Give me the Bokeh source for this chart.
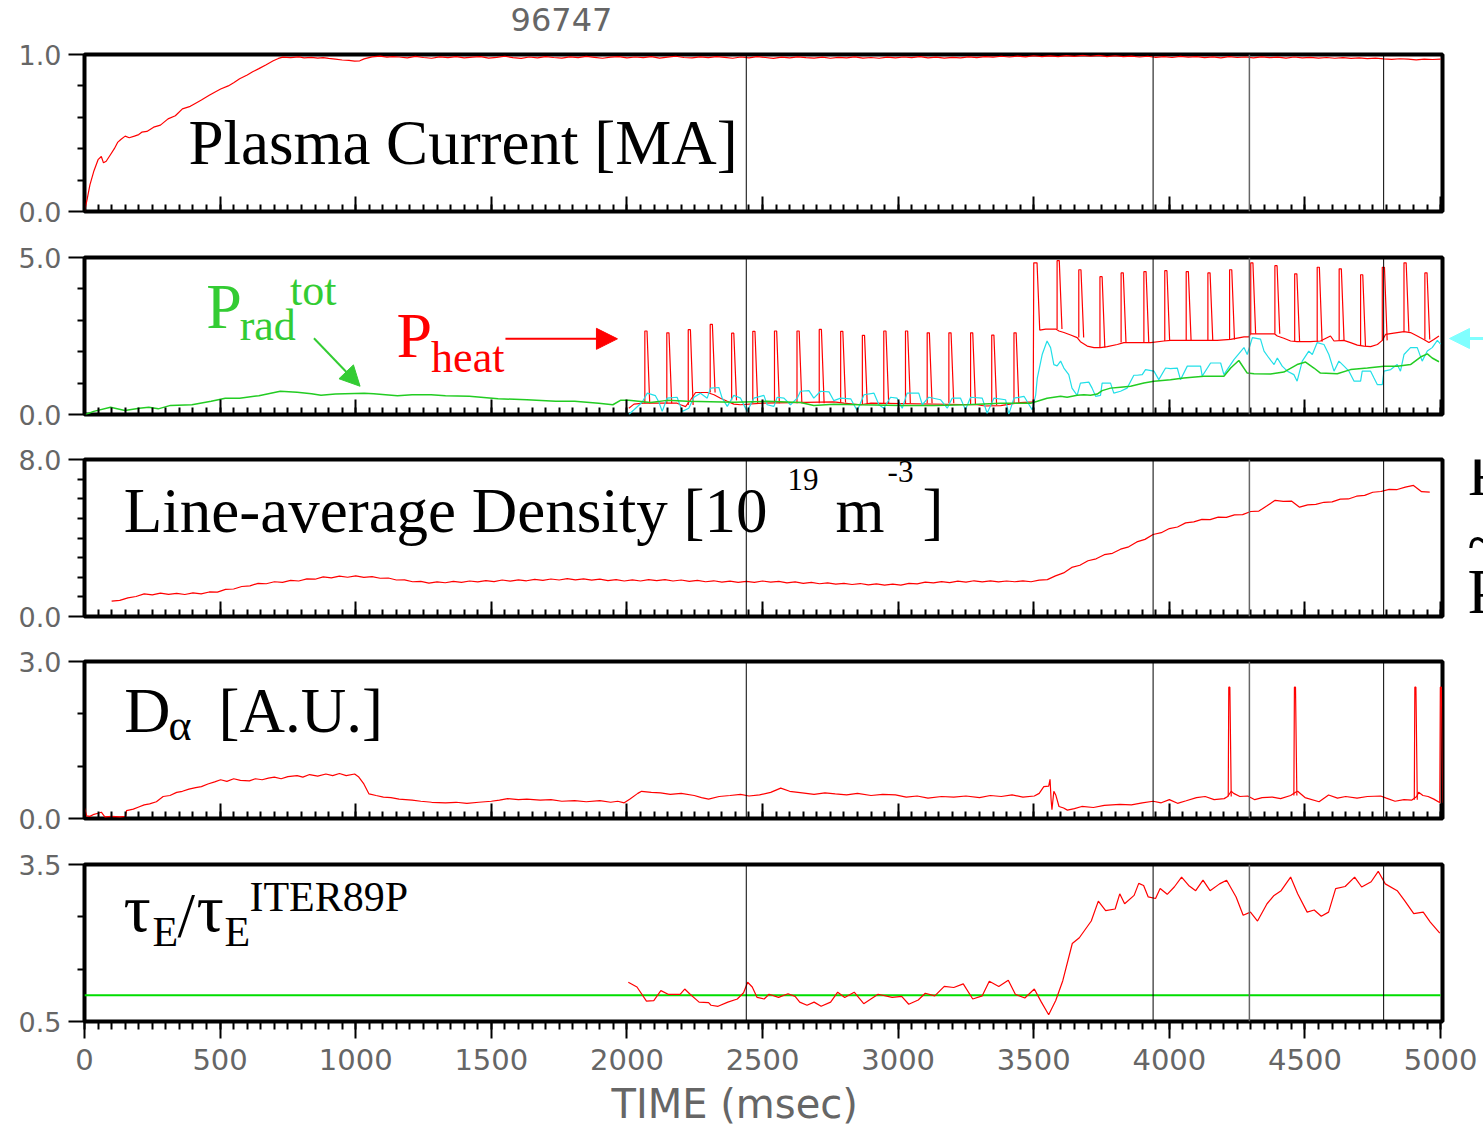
import numpy as np
from bokeh.plotting import figure
from bokeh.layouts import column, row
from bokeh.models import (Range1d, FixedTicker, PrintfTickFormatter, Span, Label,
                          Arrow, NormalHead, Title)
from bokeh.embed import file_html
from bokeh.resources import INLINE

SHOT = "96747"
X_MAX = 5007
X_MAJOR = list(range(0, 5001, 500))
X_MINOR = list(range(0, 5001, 50))
MARKERS_MS = [2440, 3940, 4295, 4790]

# ---------------- plasma current [MA]
ip_rise_t = [0, 10, 20, 35, 50, 62, 70, 80, 95, 110, 122, 135, 150, 165, 184, 200, 211, 230, 255, 280,
             308, 335, 361, 390, 410, 431, 460, 480, 502, 530, 550, 572, 600, 620, 643, 670, 696, 715, 731, 760,
             790, 810, 837, 860, 880, 900, 925, 950, 975, 996, 1015, 1031, 1060, 1090, 1115, 1137]
ip_rise_v = [0.0, 0.08, 0.17, 0.26, 0.33, 0.35, 0.31, 0.32, 0.36, 0.40, 0.44, 0.46, 0.48, 0.47, 0.48, 0.49,
             0.505, 0.51, 0.537, 0.55, 0.59, 0.61, 0.654, 0.67, 0.69, 0.71, 0.74, 0.76, 0.78, 0.80, 0.82, 0.845,
             0.87, 0.89, 0.91, 0.935, 0.96, 0.975, 0.983, 0.980, 0.985, 0.979, 0.982, 0.977, 0.980, 0.975, 0.970,
             0.965, 0.962, 0.958, 0.960, 0.972, 0.985, 0.990, 0.983, 0.987]
ip_flat_t0 = 1160
ip_flat_dt = 30
ip_flat_v = [0.984, 0.979, 0.988, 0.981, 0.976, 0.985, 0.980, 0.987, 0.978, 0.983,
             0.986, 0.977, 0.982, 0.989, 0.980, 0.975, 0.984, 0.979, 0.986, 0.981,
             0.977, 0.985, 0.980, 0.988, 0.982, 0.976, 0.983, 0.987, 0.979, 0.984,
             0.980, 0.986, 0.977, 0.983, 0.989, 0.981, 0.978, 0.985, 0.980, 0.987,
             0.982, 0.976, 0.984, 0.979, 0.987, 0.981, 0.975, 0.983, 0.978, 0.985,
             0.980, 0.977, 0.983, 0.976, 0.982, 0.979, 0.985, 0.977, 0.981, 0.976,
             0.983, 0.978, 0.984, 0.980, 0.986, 0.979, 0.983, 0.977, 0.982, 0.978,
             0.985, 0.980, 0.987, 0.983, 0.989, 0.984, 0.990, 0.985, 0.992, 0.987,
             0.991, 0.986, 0.993, 0.988, 0.995, 0.989, 0.994, 0.987, 0.992, 0.986,
             0.990, 0.984, 0.989, 0.982, 0.987, 0.981, 0.988, 0.983, 0.986, 0.980,
             0.985, 0.979, 0.986, 0.981, 0.984, 0.978, 0.985, 0.980, 0.983, 0.977,
             0.984, 0.979, 0.982, 0.977, 0.981, 0.976, 0.980, 0.975, 0.979, 0.974,
             0.977, 0.972, 0.969, 0.973, 0.970, 0.966, 0.971, 0.968, 0.970]

# ---------------- heating / radiated power [MW]
prad_t = [4, 34, 96, 149, 202, 237, 272, 317, 396, 467, 519, 572, 643, 722, 784, 837, 872, 925, 1031, 1066,
          1154, 1208, 1278, 1331, 1419, 1525, 1631, 1737, 1807, 1896, 1948, 1976, 2007, 2087, 2148, 2222,
          2394, 2517, 2640, 2689, 2763, 2861, 3009, 3132, 3254, 3377, 3488, 3513, 3549, 3599, 3623, 3660,
          3685, 3709, 3734, 3752, 3783, 3820, 3857, 3906, 3943, 4004, 4053, 4127, 4201, 4226, 4256, 4287,
          4312, 4373, 4422, 4471, 4502, 4533, 4557, 4619, 4668, 4730, 4791, 4840, 4889, 4926, 4951, 4969, 4994]
prad_v = [0.0, 0.10, 0.23, 0.13, 0.20, 0.23, 0.18, 0.29, 0.31, 0.42, 0.52, 0.52, 0.60, 0.74, 0.71, 0.66,
          0.61, 0.65, 0.68, 0.66, 0.60, 0.63, 0.63, 0.60, 0.58, 0.50, 0.47, 0.42, 0.42, 0.36, 0.31, 0.45,
          0.45, 0.38, 0.45, 0.42, 0.39, 0.42, 0.38, 0.29, 0.33, 0.31, 0.29, 0.29, 0.31, 0.36, 0.36, 0.42,
          0.52, 0.58, 0.55, 0.61, 0.63, 0.61, 0.65, 0.76, 0.84, 0.87, 0.90, 1.00, 1.06, 1.11, 1.16, 1.22,
          1.22, 1.48, 1.72, 1.32, 1.30, 1.29, 1.35, 1.59, 1.67, 1.48, 1.32, 1.30, 1.43, 1.48, 1.54, 1.54,
          1.59, 1.83, 1.93, 1.80, 1.68]

pheat_t = [2007, 2026, 2062, 2185, 2198, 2216, 2235, 2253, 2296, 2321, 2345, 2370, 2394, 2419, 2500, 2763,
           2800, 2861, 2900, 3291, 3320, 3378, 3451, 3498, 3500, 3512, 3522, 3544, 3581, 3593, 3611, 3636,
           3660, 3672, 3697, 3722, 3746, 3771, 3808, 3832, 3906, 3931, 3980, 4004, 4127, 4176, 4226, 4275,
           4293, 4299, 4387, 4398, 4422, 4447, 4471, 4520, 4557, 4594, 4607, 4643, 4668, 4693, 4717, 4742,
           4767, 4785, 4797, 4840, 4865, 4889, 4914, 4938, 4957, 4975, 4994]
pheat_v = [0.20, 0.33, 0.36, 0.36, 0.31, 0.25, 0.47, 0.70, 0.70, 0.63, 0.52, 0.42, 0.33, 0.31, 0.36, 0.40,
           0.36, 0.31, 0.36, 0.31, 0.27, 0.28, 0.38, 0.40, 4.83, 4.83, 2.69, 2.72, 2.72, 2.66, 2.61, 2.53,
           2.45, 2.32, 2.18, 2.13, 2.13, 2.16, 2.23, 2.29, 2.29, 2.29, 2.34, 2.36, 2.36, 2.36, 2.39, 2.47,
           2.47, 2.57, 2.57, 2.50, 2.43, 2.34, 2.32, 2.32, 2.34, 2.50, 2.34, 2.36, 2.29, 2.21, 2.18, 2.16,
           2.23, 2.36, 2.55, 2.61, 2.64, 2.61, 2.50, 2.39, 2.29, 2.39, 2.50]

# beam blips: start time, peak power, level before/after
blip_t = [2066, 2147, 2226, 2307, 2386, 2464, 2544, 2627, 2709, 2788, 2868, 2947, 3027, 3107, 3187, 3267,
          3345, 3427, 3586, 3666, 3744, 3822, 3906, 3983, 4062, 4142, 4222, 4300, 4389, 4462, 4545, 4626,
          4705, 4785, 4865, 4942]
blip_peak = [2.66, 2.60, 2.70, 2.87, 2.59, 2.65, 2.66, 2.66, 2.71, 2.65, 2.52, 2.66, 2.66, 2.60, 2.60, 2.60,
             2.53, 2.60, 4.90, 4.61, 4.39, 4.51, 4.55, 4.58, 4.55, 4.51, 4.61, 4.83, 4.74, 4.48, 4.69, 4.64,
             4.45, 4.69, 4.83, 4.51]
blip_base = [0.36, 0.36, 0.30, 0.70, 0.45, 0.36, 0.36, 0.36, 0.36, 0.38, 0.33, 0.36, 0.36, 0.36, 0.36, 0.33,
             0.30, 0.36, 2.72, 2.45, 2.13, 2.29, 2.29, 2.34, 2.36, 2.36, 2.39, 2.57, 2.57, 2.34, 2.32, 2.36,
             2.18, 2.36, 2.64, 2.39]

pohm_t = [2007, 2026, 2056, 2075, 2087, 2105, 2118, 2130, 2148, 2185, 2204, 2228, 2247, 2271, 2296, 2308,
          2339, 2351, 2370, 2394, 2419, 2443, 2468, 2505, 2517, 2542, 2554, 2579, 2603, 2628, 2640, 2671,
          2689, 2714, 2745, 2763, 2788, 2825, 2849, 2874, 2911, 2929, 2947, 2972, 2996, 3015, 3033, 3076,
          3089, 3113, 3156, 3181, 3199, 3230, 3248, 3267, 3310, 3328, 3353, 3396, 3408, 3427, 3464, 3494,
          3507, 3513, 3531, 3549, 3562, 3574, 3586, 3599, 3611, 3629, 3641, 3660, 3672, 3703, 3715, 3728,
          3746, 3752, 3783, 3795, 3820, 3844, 3869, 3881, 3900, 3912, 3943, 3961, 3986, 4004, 4029, 4041,
          4066, 4115, 4121, 4152, 4189, 4201, 4238, 4275, 4287, 4306, 4336, 4349, 4367, 4386, 4398, 4416,
          4435, 4459, 4471, 4490, 4514, 4527, 4545, 4570, 4588, 4607, 4625, 4644, 4662, 4681, 4705, 4711,
          4742, 4754, 4767, 4785, 4791, 4816, 4840, 4852, 4865, 4889, 4914, 4932, 4951, 4969, 4988, 5000]
pohm_v = [0.0, 0.15, 0.39, 0.68, 0.65, 0.60, 0.39, 0.10, 0.52, 0.55, 0.10, 0.20, 0.55, 0.68, 0.52, 0.84,
          0.86, 0.52, 0.26, 0.61, 0.52, 0.10, 0.52, 0.61, 0.31, 0.26, 0.55, 0.52, 0.31, 0.52, 0.74, 0.76,
          0.52, 0.74, 0.72, 0.44, 0.52, 0.50, 0.12, 0.63, 0.68, 0.31, 0.20, 0.55, 0.52, 0.20, 0.68, 0.68,
          0.31, 0.55, 0.47, 0.20, 0.52, 0.52, 0.15, 0.55, 0.52, 0.04, 0.52, 0.47, 0.01, 0.52, 0.58, 0.15,
          0.62, 1.16, 1.91, 2.34, 2.13, 1.59, 1.55, 1.70, 1.48, 1.27, 0.84, 0.61, 1.00, 1.03, 0.84, 0.58,
          0.61, 1.00, 1.00, 0.68, 0.74, 0.84, 1.25, 1.25, 1.27, 1.43, 1.38, 1.11, 1.48, 1.46, 1.48, 1.11,
          1.54, 1.54, 1.22, 1.64, 1.64, 1.27, 1.75, 2.13, 1.91, 2.45, 2.40, 2.02, 1.80, 1.59, 1.80, 1.54,
          1.38, 1.27, 1.06, 1.70, 2.02, 1.91, 2.29, 2.23, 1.91, 1.38, 1.70, 1.54, 1.38, 1.06, 1.06, 1.38,
          1.38, 1.17, 0.95, 0.95, 1.38, 1.43, 1.59, 1.38, 1.91, 2.13, 2.13, 1.70, 2.02, 2.13, 2.36, 2.24]

# ---------------- line-average density [1e19 m^-3]
ne_t0 = 100
ne_dt = 30
ne_v = [0.78, 0.82, 0.95, 1.02, 1.15, 1.10, 1.19, 1.13, 1.18, 1.12,
        1.20, 1.15, 1.25, 1.24, 1.38, 1.40, 1.53, 1.56, 1.69, 1.67,
        1.77, 1.74, 1.84, 1.81, 1.92, 1.90, 2.02, 1.97, 2.06, 2.00,
        2.07, 1.99, 2.03, 1.95, 1.96, 1.86, 1.87, 1.77, 1.79, 1.70,
        1.76, 1.72, 1.79, 1.74, 1.81, 1.76, 1.83, 1.78, 1.86, 1.80,
        1.87, 1.82, 1.89, 1.84, 1.91, 1.86, 1.93, 1.87, 1.92, 1.85,
        1.90, 1.83, 1.88, 1.81, 1.87, 1.81, 1.88, 1.83, 1.88, 1.81,
        1.86, 1.79, 1.84, 1.77, 1.82, 1.75, 1.80, 1.74, 1.79, 1.74,
        1.81, 1.75, 1.79, 1.71, 1.76, 1.69, 1.74, 1.67, 1.71, 1.65,
        1.69, 1.63, 1.68, 1.61, 1.66, 1.60, 1.65, 1.60, 1.69, 1.66,
        1.75, 1.71, 1.78, 1.73, 1.80, 1.75, 1.82, 1.76, 1.82, 1.76,
        1.81, 1.77, 1.82, 1.77, 1.85, 1.88, 2.07, 2.22, 2.50, 2.61,
        2.84, 2.94, 3.15, 3.22, 3.43, 3.55, 3.80, 3.93, 4.18, 4.27,
        4.48, 4.56, 4.77, 4.82, 4.95, 4.94, 5.06, 5.05, 5.18, 5.19,
        5.35, 5.37, 5.64, 5.92, 5.87, 5.88, 5.57, 5.69, 5.71, 5.82,
        5.84, 5.98, 5.99, 6.13, 6.17, 6.33, 6.37, 6.48, 6.47, 6.59,
        6.68, 6.36, 6.34]

# ---------------- D-alpha [A.U.]
da_t = [0, 8, 20, 35, 50, 62, 75, 100, 130, 152, 155, 180, 200, 220, 240, 265, 290, 315, 340, 361,
        385, 410, 431, 455, 480, 502, 525, 550, 575, 608, 630, 655, 678, 700, 725, 750, 784, 805, 830, 860,
        890, 915, 940, 965, 996, 1010, 1030, 1049, 1075, 1102, 1130, 1160, 1208, 1240, 1280, 1331, 1370,
        1410, 1454, 1500, 1530, 1560, 1600, 1631, 1680, 1720, 1760, 1807, 1850, 1900, 1940, 1966, 1990,
        2010, 2040, 2054, 2090, 2124, 2160, 2200, 2248, 2275, 2301, 2340, 2380, 2419, 2450, 2489, 2530,
        2567, 2600, 2646, 2690, 2730, 2768, 2810, 2850, 2900, 2943, 2990, 3030, 3070, 3110, 3160, 3205,
        3250, 3300, 3340, 3380, 3420, 3460, 3502, 3520, 3537, 3555, 3560, 3564, 3567, 3574, 3581, 3593,
        3610, 3624, 3650, 3677, 3720, 3760, 3817, 3860, 3900, 3940, 3970, 4000, 4030, 4062, 4100, 4132,
        4165, 4202, 4215, 4228, 4237, 4260, 4289, 4315, 4342, 4380, 4410, 4447, 4465, 4473, 4500, 4552,
        4587, 4620, 4650, 4692, 4730, 4779, 4800, 4832, 4865, 4893, 4912, 4919, 4935, 4954, 4975, 4998]
da_v = [0.20, 0.05, 0.04, 0.08, 0.10, 0.12, 0.03, 0.04, 0.03, 0.04, 0.15, 0.18, 0.22, 0.26, 0.28, 0.32,
        0.42, 0.44, 0.50, 0.52, 0.56, 0.59, 0.61, 0.66, 0.70, 0.74, 0.71, 0.76, 0.73, 0.72, 0.76, 0.74,
        0.77, 0.79, 0.76, 0.80, 0.82, 0.79, 0.84, 0.81, 0.85, 0.82, 0.86, 0.82, 0.85, 0.80, 0.66, 0.47,
        0.44, 0.41, 0.40, 0.37, 0.35, 0.33, 0.31, 0.30, 0.31, 0.29, 0.31, 0.33, 0.35, 0.38, 0.36, 0.37,
        0.35, 0.36, 0.33, 0.34, 0.32, 0.34, 0.31, 0.33, 0.30, 0.37, 0.48, 0.52, 0.50, 0.49, 0.46, 0.48,
        0.44, 0.40, 0.37, 0.42, 0.44, 0.46, 0.43, 0.45, 0.50, 0.58, 0.52, 0.49, 0.46, 0.49, 0.47, 0.45,
        0.48, 0.44, 0.46, 0.45, 0.41, 0.43, 0.39, 0.42, 0.41, 0.43, 0.40, 0.44, 0.42, 0.45, 0.41, 0.43,
        0.48, 0.61, 0.62, 0.75, 0.35, 0.17, 0.52, 0.45, 0.23, 0.20, 0.16, 0.19, 0.23, 0.21, 0.25, 0.27,
        0.26, 0.30, 0.33, 0.30, 0.36, 0.29, 0.34, 0.40, 0.42, 0.36, 0.38, 0.42, 0.52, 0.48, 0.42, 0.43,
        0.36, 0.40, 0.41, 0.38, 0.44, 0.50, 0.52, 0.40, 0.32, 0.45, 0.39, 0.42, 0.39, 0.42, 0.43, 0.39,
        0.33, 0.36, 0.35, 0.42, 0.50, 0.44, 0.42, 0.37, 0.30]
# ELM bursts: time, peak, level around the burst
elm_t = [4219, 4461, 4905, 4999]
elm_peak = [2.51, 2.51, 2.51, 2.51]
elm_base = [0.42, 0.44, 0.36, 0.30]

# ---------------- confinement enhancement tau_E / tau_E(ITER89P)
h_t = [2005, 2037, 2072, 2099, 2125, 2152, 2196, 2213, 2231, 2266, 2301, 2310, 2336, 2372, 2407, 2430,
       2445, 2462, 2480, 2506, 2524, 2559, 2594, 2620, 2637, 2664, 2690, 2716, 2751, 2777, 2803, 2838,
       2873, 2926, 2978, 3013, 3039, 3074, 3100, 3135, 3170, 3205, 3240, 3275, 3310, 3336, 3371, 3406,
       3432, 3467, 3502, 3528, 3555, 3581, 3607, 3642, 3668, 3712, 3738, 3765, 3800, 3817, 3835, 3870,
       3887, 3905, 3922, 3949, 3966, 3992, 4018, 4045, 4071, 4097, 4124, 4150, 4185, 4211, 4246, 4272,
       4299, 4325, 4360, 4386, 4412, 4447, 4473, 4508, 4534, 4560, 4587, 4613, 4648, 4683, 4709, 4744,
       4770, 4796, 4840, 4866, 4901, 4936, 4962, 4997]
h_v = [1.25, 1.16, 0.89, 0.90, 1.09, 1.02, 1.02, 1.12, 1.03, 0.87, 0.86, 0.81, 0.79, 0.87, 0.93, 1.05,
       1.25, 1.16, 0.96, 0.93, 1.02, 0.96, 1.03, 0.98, 0.87, 0.81, 0.87, 0.79, 0.87, 1.06, 0.96, 1.06,
       0.84, 1.02, 0.96, 0.98, 0.83, 0.91, 1.04, 0.99, 1.17, 1.15, 1.22, 0.93, 0.99, 1.27, 1.17, 1.29,
       1.02, 0.95, 1.12, 0.87, 0.63, 0.90, 1.28, 1.99, 2.10, 2.42, 2.80, 2.62, 2.65, 2.94, 2.75, 2.91,
       3.14, 3.10, 2.88, 2.85, 3.04, 2.93, 3.07, 3.26, 3.10, 3.00, 3.20, 3.00, 3.13, 3.20, 2.88, 2.53,
       2.59, 2.42, 2.75, 2.91, 3.00, 3.26, 2.94, 2.59, 2.63, 2.51, 2.59, 3.04, 3.08, 3.26, 3.07, 3.17,
       3.37, 3.13, 3.00, 2.82, 2.56, 2.59, 2.40, 2.19]
h_ref_t = [0, 5000]
h_ref_v = [1.0, 1.0]

RED = "#ff0000"
GREEN = "#22cc22"
LABEL_GREEN = "#33cc33"
CYAN = "#22dfe8"
TICK_FONT = "DejaVu Sans"
TICK_COLOR = "#666666"
SERIF = "Liberation Serif"
FRAME_W = 1358
FRAME_H = 157
BASELINE_DROP = 0.355  # renderer places alphabetic text this many em below the anchor


def panel(y_lo, y_hi, y_minor, top, bottom, right=41, last=False):
    p = figure(frame_width=FRAME_W, frame_height=FRAME_H,
               x_range=Range1d(0, X_MAX), y_range=Range1d(y_lo, y_hi),
               min_border_left=84, min_border_right=right,
               min_border_top=top, min_border_bottom=bottom,
               output_backend="svg", toolbar_location=None,
               background_fill_color="white", border_fill_color="white")
    p.grid.visible = False
    p.outline_line_color = "black"
    p.outline_line_width = 4

    xa = p.xaxis[0]
    xa.ticker = FixedTicker(ticks=X_MAJOR, minor_ticks=X_MINOR)
    xa.axis_line_color = None
    xa.major_tick_line_color = "black"
    xa.minor_tick_line_color = "black"
    xa.major_tick_line_width = 2
    xa.minor_tick_line_width = 2
    if last:
        xa.major_tick_in, xa.major_tick_out = 0, 17
        xa.minor_tick_in, xa.minor_tick_out = 0, 8
        xa.major_label_text_font = TICK_FONT
        xa.major_label_text_font_size = "29px"
        xa.major_label_text_color = TICK_COLOR
        xa.major_label_standoff = 10
    else:
        # time ticks point into the panel; values are only printed on the bottom panel
        xa.major_tick_in, xa.major_tick_out = 15, 0
        xa.minor_tick_in, xa.minor_tick_out = 7, 0
        xa.major_label_text_font_size = "0px"
        xa.major_label_standoff = 0

    ya = p.yaxis[0]
    ya.ticker = FixedTicker(ticks=[y_lo, y_hi], minor_ticks=y_minor)
    ya.formatter = PrintfTickFormatter(format="%.1f")
    ya.axis_line_color = None
    ya.major_tick_line_color = "black"
    ya.minor_tick_line_color = "black"
    ya.major_tick_line_width = 2
    ya.minor_tick_line_width = 2
    ya.major_tick_in, ya.major_tick_out = 0, 16
    ya.minor_tick_in, ya.minor_tick_out = 0, 7
    ya.major_label_text_font = TICK_FONT
    ya.major_label_text_font_size = "27px"
    ya.major_label_text_color = TICK_COLOR
    ya.major_label_standoff = 7

    for m in MARKERS_MS:
        grey = (m == 4295)
        p.add_layout(Span(location=m, dimension="height",
                          line_color="#666666" if grey else "black",
                          line_width=1.5 if grey else 1))
    p.tags = [FRAME_H / (y_hi - y_lo)]
    return p


def blank(frame_w, frame_h, x_end, left=0, right=0, top=0, bottom=0):
    """Plain drawing area without axes; y data units are pixels from the frame bottom."""
    b = figure(title=None, frame_width=frame_w, frame_height=frame_h,
               x_range=Range1d(0, x_end), y_range=Range1d(0, frame_h),
               min_border_left=left, min_border_right=right,
               min_border_top=top, min_border_bottom=bottom,
               x_axis_location=None, y_axis_location=None,
               output_backend="svg", toolbar_location=None,
               background_fill_color="white", border_fill_color="white",
               outline_line_color=None)
    b.grid.visible = False
    return b


def text(p, x, y, s, size, color="black", font=SERIF):
    """Place s with its baseline at (x, y) in p's data units; size in px."""
    px_per_unit = p.tags[0] if p.tags else 1.0
    y_anchor = y + BASELINE_DROP * size / px_per_unit
    p.add_layout(Label(x=x, y=y_anchor, text=s, text_font=font, text_font_size=f"{size}px",
                       text_color=color, text_baseline="alphabetic", text_align="left"))


# ---- shot number strip (same time axis as the panels below it)
top_strip = blank(FRAME_W, 38, X_MAX, left=84, right=41)
text(top_strip, 1571, 8, SHOT, 32, color=TICK_COLOR, font=TICK_FONT)

# ---- panel 1: plasma current
p1 = panel(0.0, 1.0, [0.2, 0.4, 0.6, 0.8], top=16, bottom=23)
ip_t = ip_rise_t + [ip_flat_t0 + ip_flat_dt * i for i in range(len(ip_flat_v))]
ip_v = ip_rise_v + ip_flat_v
p1.line(ip_t, ip_v, line_color=RED, line_width=1.2)
text(p1, 383, 0.293, "Plasma Current [MA]", 63)

# ---- panel 2: powers
p2 = panel(0.0, 5.0, [1.0, 2.0, 3.0, 4.0], top=23, bottom=22, right=4)
p2.line(pheat_t, pheat_v, line_color=RED, line_width=1.2)
blip_xs = [[t, t, t + 8, t + 18] for t in blip_t]
blip_ys = [[b, pk, pk, b] for pk, b in zip(blip_peak, blip_base)]
p2.multi_line(blip_xs, blip_ys, line_color=RED, line_width=1.2)
p2.line(pohm_t, pohm_v, line_color=CYAN, line_width=1.2)
p2.line(prad_t, prad_v, line_color=GREEN, line_width=1.5)
text(p2, 449, 2.72, "P", 64, color=LABEL_GREEN)
text(p2, 572, 2.34, "rad", 44, color=LABEL_GREEN)
text(p2, 758, 3.46, "tot", 44, color=LABEL_GREEN)
text(p2, 1150, 1.80, "P", 64, color=RED)
text(p2, 1278, 1.32, "heat", 44, color=RED)
p2.add_layout(Arrow(end=NormalHead(size=21, fill_color=RED, line_color=RED),
                    x_start=1552, y_start=2.41, x_end=1965, y_end=2.41,
                    line_color=RED, line_width=2))
p2.add_layout(Arrow(end=NormalHead(size=20, fill_color=LABEL_GREEN, line_color=LABEL_GREEN),
                    x_start=846, y_start=2.43, x_end=1016, y_end=0.90,
                    line_color=LABEL_GREEN, line_width=2))
side2 = blank(37, FRAME_H, 37, top=23, bottom=22)
side2.add_layout(Arrow(end=NormalHead(size=20, fill_color="#80ffff", line_color="#80ffff"),
                       x_start=45, y_start=76, x_end=3, y_end=76,
                       line_color="#80ffff", line_width=3))

# ---- panel 3: density
p3 = panel(0.0, 8.0, [1.0, 2.0, 3.0, 4.0, 5.0, 6.0, 7.0], top=23, bottom=22, right=4)
ne_t = [ne_t0 + ne_dt * i for i in range(len(ne_v))]
p3.line(ne_t, ne_v, line_color=RED, line_width=1.2)
text(p3, 145, 4.24, "Line-average Density [10", 63)
text(p3, 2592, 6.43, "19", 31)
text(p3, 2769, 4.24, "m", 63)
text(p3, 2961, 6.85, "-3", 31)
text(p3, 3090, 4.24, "]", 63)
side3 = blank(37, FRAME_H, 37, top=23, bottom=22)
text(side3, 21, 120, "P", 63)
text(side3, 21, 51, "~", 63)
text(side3, 21, 2, "P", 63)

# ---- panel 4: D-alpha
p4 = panel(0.0, 3.0, [1.0, 2.0], top=23, bottom=23)
p4.line(da_t, da_v, line_color=RED, line_width=1.2)
elm_xs = [[t - 2, t, t + 4, t + 9] for t in elm_t]
elm_ys = [[b, pk, pk, b] for pk, b in zip(elm_peak, elm_base)]
p4.multi_line(elm_xs, elm_ys, line_color=RED, line_width=1.2)
text(p4, 147, 1.63, "D", 64)
text(p4, 310, 1.47, "\u03b1", 44)
text(p4, 494, 1.63, "[A.U.]", 63)

# ---- panel 5: confinement enhancement, with the time-axis title below
p5 = panel(0.5, 3.5, [1.5, 2.5], top=23, bottom=105, last=True)
p5.line(h_ref_t, h_ref_v, line_color="#00dd00", line_width=2)
p5.line(h_t, h_v, line_color=RED, line_width=1.2)
text(p5, 144, 2.21, "\u03c4", 68)
text(p5, 251, 1.92, "E", 42)
text(p5, 343, 2.09, "/", 63)
text(p5, 413, 2.21, "\u03c4", 68)
text(p5, 516, 1.92, "E", 42)
text(p5, 608, 2.59, "ITER89P", 42)
p5.add_layout(Title(text="TIME (msec)", align="left", offset=527, standoff=12,
                    text_font=TICK_FONT, text_font_size="40px", text_font_style="normal",
                    text_color=TICK_COLOR), "below")

layout = column(top_strip, p1, row(p2, side2), row(p3, side3), p4, p5)
open("out.html", "w").write(file_html(layout, INLINE))
